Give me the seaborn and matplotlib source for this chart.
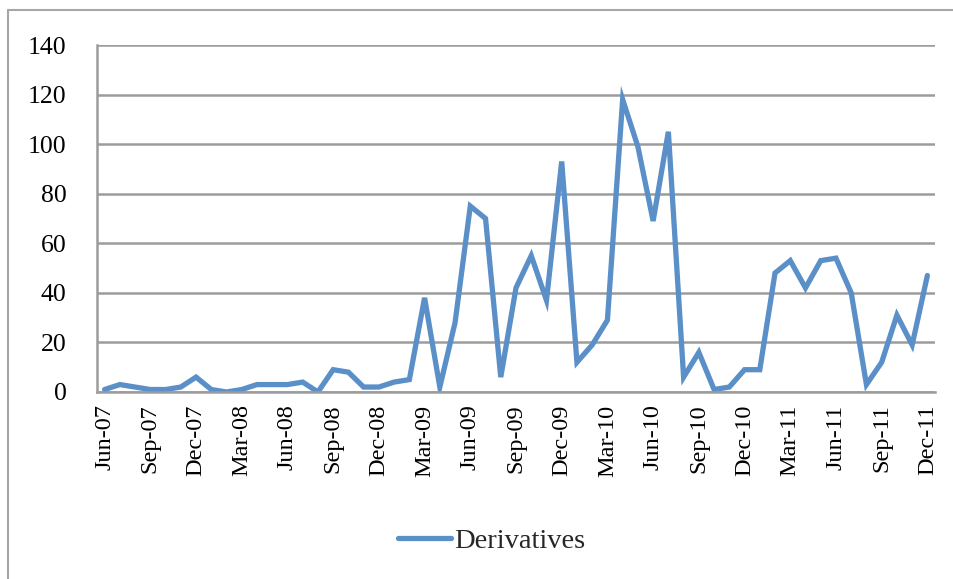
import matplotlib
matplotlib.use("Agg")
import matplotlib.pyplot as plt
import matplotlib.lines as mlines
import pandas as pd
import seaborn as sns

# Monthly counts, Jun-07 .. Dec-11
months = pd.date_range("2007-06-01", "2011-12-01", freq="MS")
month_labels = [d.strftime("%b-%y") for d in months]
derivatives = [1, 3, 2, 1, 1, 2, 6, 1, 0, 1, 3, 3, 3, 4, 0, 9, 8, 2, 2, 4,
               5, 38, 2, 28, 75, 70, 6, 42, 55, 37, 93, 12, 19, 29, 118, 99,
               69, 105, 6, 16, 1, 2, 9, 9, 48, 53, 42, 53, 54, 40, 3, 12, 31,
               19, 47]
y_ticks = [0, 20, 40, 60, 80, 100, 120, 140]

df = pd.DataFrame({"idx": range(len(derivatives)), "Derivatives": derivatives})

sns.set_theme(style="white")
plt.rcParams["font.family"] = ["Liberation Serif", "DejaVu Serif"]

line_color = "#5B8FC8"
grid_color = "#9C9C9C"

fig = plt.figure(figsize=(9.54, 5.79), dpi=100)
ax = fig.add_axes([97 / 954, 1 - 392 / 579, (935 - 97) / 954, (392 - 45) / 579])

sns.lineplot(data=df, x="idx", y="Derivatives", ax=ax, color=line_color,
             linewidth=3.8, solid_joinstyle="miter", legend=False)

ax.set_xlim(-0.5, len(derivatives) - 0.5)
ax.set_ylim(0, 140)
ax.set_yticks(y_ticks)
ax.set_yticklabels([str(v) for v in y_ticks], fontsize=18.5)
tick_pos = list(range(0, len(derivatives), 3))
ax.set_xticks(tick_pos)
ax.set_xticklabels([month_labels[i] for i in tick_pos], rotation=90, fontsize=17.5)
ax.tick_params(axis="both", length=0, colors="black")
ax.tick_params(axis="x", pad=9)
ax.tick_params(axis="y", pad=22)
ax.set_xlabel("")
ax.set_ylabel("")

ax.yaxis.grid(True, color=grid_color, linewidth=1.8)
ax.set_axisbelow(True)
for side in ("top", "right"):
    ax.spines[side].set_visible(False)
ax.spines["left"].set_color(grid_color)
ax.spines["left"].set_linewidth(1.8)
ax.spines["bottom"].set_color(grid_color)
ax.spines["bottom"].set_linewidth(1.8)

handle = mlines.Line2D([], [], color=line_color, linewidth=3.8,
                       solid_capstyle="round")
fig.legend([handle], ["Derivatives"], loc="center", bbox_to_anchor=(492 / 954, 1 - 541 / 579),
           frameon=False, fontsize=20.5, handlelength=1.85, handletextpad=0.12)

# Chart-area frame (top and left edges)
fig.add_artist(mlines.Line2D([8 / 954, 8 / 954], [0, 1 - 10 / 579],
                             transform=fig.transFigure, color="#A6A6A6", linewidth=1.5))
fig.add_artist(mlines.Line2D([8 / 954, 1], [1 - 10 / 579, 1 - 10 / 579],
                             transform=fig.transFigure, color="#A6A6A6", linewidth=1.5))

fig.savefig("out.png", dpi=100)
